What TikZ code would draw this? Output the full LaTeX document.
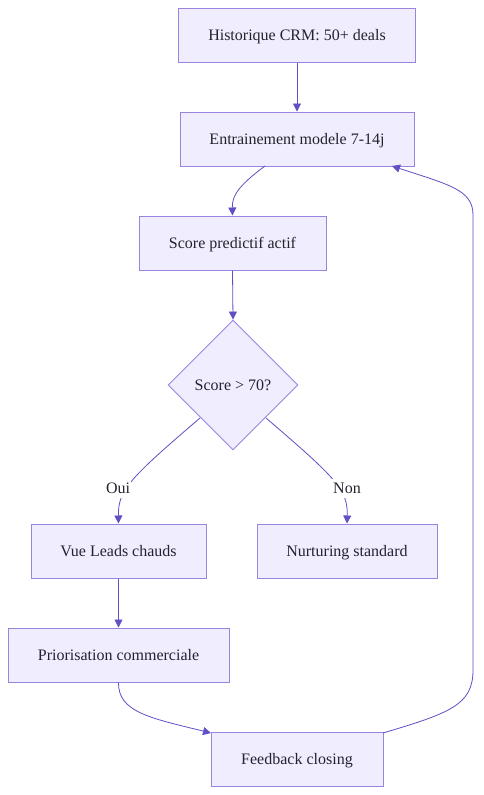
\documentclass[tikz,border=0pt]{standalone}
\usepackage{fontspec}
\setmainfont{Liberation Serif}
\usetikzlibrary{shapes.geometric,arrows.meta}
\definecolor{nodefill}{RGB}{240,237,255}
\definecolor{nodeline}{RGB}{155,132,222}
\definecolor{edgecol}{RGB}{95,80,195}
\definecolor{txt}{RGB}{35,35,45}
\begin{document}
\begin{tikzpicture}[x=1pt,y=-1pt,
  box/.style={draw=nodeline,fill=nodefill,line width=1pt,inner sep=0pt,text=txt,text height=14pt,text depth=3pt,font=\fontsize{16}{19}\selectfont},
  dia/.style={diamond,draw=nodeline,fill=nodefill,line width=0.9pt,inner sep=0pt,minimum width=130pt,minimum height=130pt,text=txt,text height=14pt,text depth=3pt,font=\fontsize{16}{19}\selectfont},
  arr/.style={draw=edgecol,line width=0.8pt,-{Triangle[length=8pt,width=8pt]}},
  lbl/.style={fill=white,inner sep=1pt,text=txt,text height=14pt,text depth=3pt,font=\fontsize{16}{19}\selectfont}]
\useasboundingbox (0,0) rectangle (483,795);
\fill[white] (0,0) rectangle (483,795);
\node[box,minimum width=237pt,minimum height=54pt] (a) at (297,35) {Historique CRM: 50+ deals};
\node[box,minimum width=234pt,minimum height=54pt] (b) at (297,139) {Entrainement modele 7-14j};
\node[box,minimum width=187pt,minimum height=54pt] (c) at (232.5,243) {Score predictif actif};
\node[dia] (d) at (233,385) {Score > 70?};
\node[box,minimum width=175pt,minimum height=54pt] (e) at (118.5,551) {Vue Leads chauds};
\node[box,minimum width=180pt,minimum height=54pt] (f) at (347,551) {Nurturing standard};
\node[box,minimum width=221pt,minimum height=54pt] (g) at (118.5,655) {Priorisation commerciale};
\node[box,minimum width=172pt,minimum height=54pt] (h) at (297,759) {Feedback closing};
\coordinate (dl) at (200,418);
\coordinate (dr) at (266,418);
\coordinate (bo) at (265,166);
\coordinate (hr) at (383,733);
\coordinate (hl) at (211,733);
\coordinate (bi) at (392,166);
\draw[arr] (a.south) -- (b.north);
\draw[arr] (bo) .. controls (238,186) and (232,196) .. (c.north);
\draw[arr] (c.south) -- (d.north);
\draw[arr] (dl) .. controls (130,478) and (118,490) .. (e.north);
\draw[arr] (dr) .. controls (336,478) and (348,490) .. (f.north);
\draw[arr] (e.south) -- (g.south |- g.north);
\draw[arr] (g.south) .. controls (118,712) and (150,718) .. (hl);
\draw[arr] (hr) .. controls (450,713) and (473,705) .. (473,670) -- (473,215) .. controls (473,190) and (450,185) .. (bi);
\node[lbl] (oui) at (118,488) {Oui};
\node[lbl] (non) at (347,488) {Non};
\end{tikzpicture}
\end{document}
